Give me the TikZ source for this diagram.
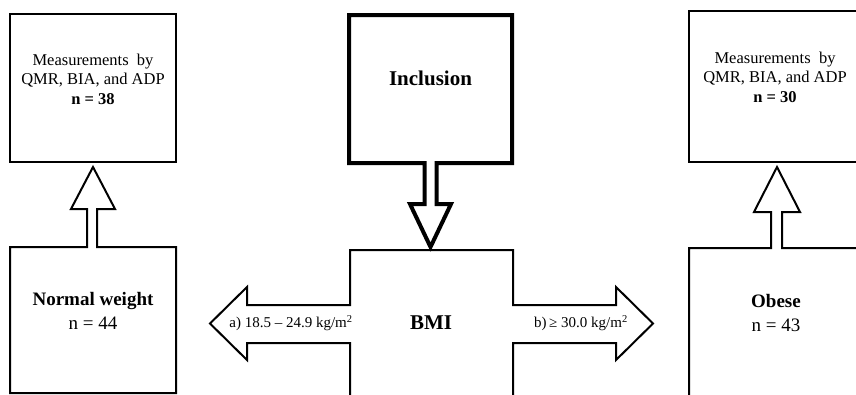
\documentclass[tikz,border=0pt]{standalone}
\usepackage{fontspec}
\setmainfont{Liberation Serif}
\begin{document}
\begin{tikzpicture}[x=1pt,y=-1pt,
  thin box/.style={draw=black,line width=2pt,line join=miter},
  thick box/.style={draw=black,line width=4pt,line join=miter},
  txt/.style={align=center,inner sep=0pt,text=black}]
\useasboundingbox (0,0) rectangle (856,394);
\clip (0,0) rectangle (856,394);
\fill[white] (0,0) rectangle (856,394);
% left column
\draw[thin box] (10,14) rectangle (176,162);
\draw[thin box] (10,393) -- (10,247) -- (87,247) -- (87,209) -- (71,209) -- (93,167)
  -- (115,209) -- (97,209) -- (97,247) -- (176,247) -- (176,393) -- cycle;
% inclusion
\draw[thick box] (424.5,163) -- (349,163) -- (349,15) -- (512,15) -- (512,163) -- (436.5,163)
  -- (436.5,204) -- (451,204) -- (430.5,247) -- (410,204) -- (424.5,204) -- cycle;
% BMI shape
\draw[thin box] (350,400) -- (350,343) -- (247,343) -- (247,360) -- (210,323.5) -- (247,287)
  -- (247,305) -- (350,305) -- (350,250) -- (513,250) -- (513,305) -- (616,305) -- (616,287)
  -- (653,323.5) -- (616,360) -- (616,343) -- (513,343) -- (513,400);
% right column
\draw[thin box] (689,11) rectangle (880,162);
\draw[thin box] (689,400) -- (689,248) -- (771,248) -- (771,212) -- (754,212) -- (777,167)
  -- (800,212) -- (782,212) -- (782,248) -- (880,248);
% texts
\node[txt,font=\fontsize{16.5}{19.5}\selectfont] (tl) at (93,79)
  {Measurements\hspace{0.25em} by\\QMR, BIA, and ADP\\\textbf{n = 38}};
\node[txt,font=\fontsize{19}{24}\selectfont] (nw) at (93,311) {\textbf{Normal weight}\\n = 44};
\node[txt,font=\fontsize{21}{24}\selectfont] (incl) at (430.5,78) {\textbf{Inclusion}};
\node[txt,font=\fontsize{21}{24}\selectfont] (bmi) at (431,323) {\textbf{BMI}};
\node[txt,font=\fontsize{19}{24}\selectfont] (ob) at (776,313) {\textbf{Obese}\\n = 43};
\node[txt,font=\fontsize{16.5}{19.5}\selectfont] (tr) at (775,77)
  {Measurements\hspace{0.25em} by\\QMR, BIA, and ADP\\\textbf{n = 30}};
\node[txt,font=\fontsize{15}{18}\selectfont] (la) at (291,323) {a) 18.5 – 24.9 kg/m\textsuperscript{2}};
\node[txt,font=\fontsize{15}{18}\selectfont] (lb) at (581,323) {b)\,≥ 30.0 kg/m\textsuperscript{2}};
\end{tikzpicture}
\end{document}
